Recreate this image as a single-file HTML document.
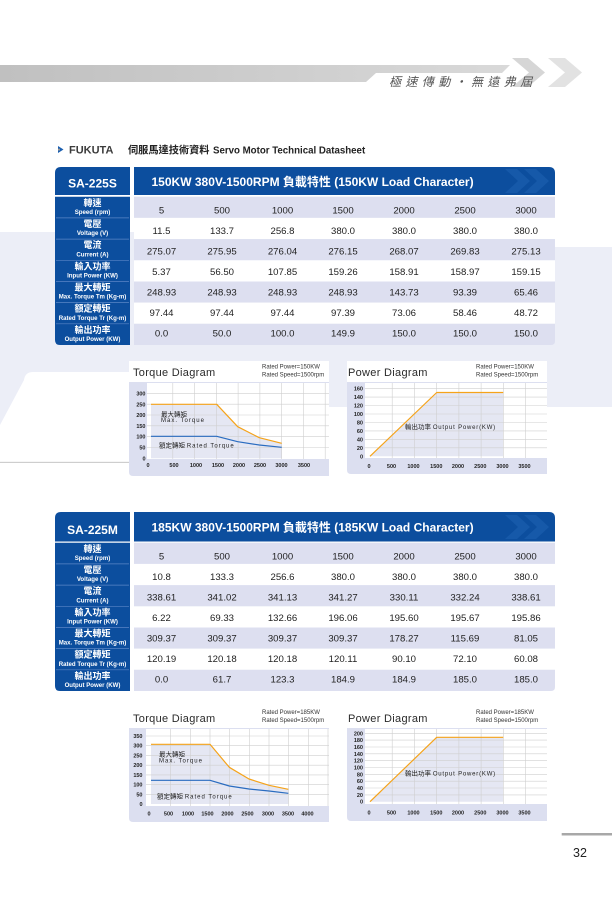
<!DOCTYPE html>
<html><head><meta charset="utf-8">
<style>
html,body{margin:0;padding:0;background:#fff;}
svg{display:block;}
text{font-family:"Liberation Sans","Noto Sans CJK TC",sans-serif;}
.lc{font-size:9px;font-weight:bold;fill:#fff;text-anchor:middle;}
.le{font-size:6.1px;font-weight:bold;fill:#fff;text-anchor:middle;}
.d{font-size:9.6px;fill:#222;text-anchor:middle;}
.ax{font-size:5.5px;font-weight:bold;fill:#222;}
.ya{text-anchor:end;}
.xa{text-anchor:middle;}
.rt{font-size:6px;fill:#333;}
.ct{font-size:11px;fill:#2a2a2a;letter-spacing:0.3px;}
.an{font-size:6px;fill:#222;letter-spacing:1px;}
.anc{font-size:6.5px;fill:#222;}
.g line{stroke:#cfcfcf;stroke-width:0.6;}
</style></head>
<body>
<svg width="612" height="900" viewBox="0 0 612 900" xmlns="http://www.w3.org/2000/svg">
<defs>
<linearGradient id="hb" x1="0" x2="1" y1="0" y2="0"><stop offset="0" stop-color="#c0c0c0"/><stop offset="1" stop-color="#d9d9d9"/></linearGradient>
</defs>
<rect width="612" height="900" fill="#fff"/>

<!-- header band -->
<path d="M0,65 H510 L502,73 H376 L366,82 H0 Z" fill="url(#hb)"/>
<path d="M512,58 H528 L545,72.5 L528,87 H512 L529,72.5 Z" fill="#d6d6d6"/>
<path d="M548,58 H565 L582,72.5 L565,87 H548 L565,72.5 Z" fill="#e2e2e2"/>
<text x="389" y="86" font-size="12" font-style="italic" letter-spacing="4.4" fill="#555">極速傳動・無遠弗屆</text>

<!-- logo line -->
<path d="M58,146 L63.5,149.5 L58,153 Z" fill="#1b5fb0"/>
<rect x="58" y="148.7" width="2" height="1.8" fill="#999"/>
<text x="69" y="153.5" font-size="11" font-weight="bold" fill="#3c3c3c">FUKUTA</text>
<text x="128" y="153.5" font-size="10.2" font-weight="bold" fill="#222">伺服馬達技術資料</text>
<text x="213" y="153.5" font-size="9.7" font-weight="bold" fill="#222">Servo Motor Technical Datasheet</text>

<!-- watermark section 1 -->
<path d="M0,232 H555 V247 H612 V407 H329 V372 H33 Q25,372 24,380 L0,425 Z" fill="#eceef7"/>
<line x1="0" y1="462.3" x2="129" y2="462.3" stroke="#bdbdbd" stroke-width="0.8"/>

<!-- ===== TABLE 1 ===== -->
<path d="M55,173 Q55,167 61,167 H130 V195 H55 Z" fill="#0c4e9e"/>
<path d="M134,167 H549 Q555,167 555,173 V195 H134 Z" fill="#0c4e9e"/>
<path d="M505,169 H517 L530,181 L517,193 H505 L518,181 Z" fill="#1659a9"/>
<path d="M524,169 H536 L549,181 L536,193 H524 L537,181 Z" fill="#1659a9"/>
<text x="92.5" y="187.5" font-size="12" font-weight="bold" fill="#fff" text-anchor="middle">SA-225S</text>
<text x="151.5" y="185.8" font-size="12" font-weight="bold" fill="#fff">150KW 380V-1500RPM 負載特性 (150KW Load Character)</text>

<path d="M55,196.7 H130 V345 H60 Q55,345 55,340 Z" fill="#0c4e9e"/>
<g stroke="#5a85c6" stroke-width="0.7">
<line x1="56" y1="217.9" x2="129" y2="217.9"/><line x1="56" y1="239.1" x2="129" y2="239.1"/>
<line x1="56" y1="260.3" x2="129" y2="260.3"/><line x1="56" y1="281.5" x2="129" y2="281.5"/>
<line x1="56" y1="302.6" x2="129" y2="302.6"/><line x1="56" y1="323.8" x2="129" y2="323.8"/>
</g>
<rect x="134" y="196.7" width="421" height="21.2" fill="#dddff0"/>
<rect x="134" y="217.9" width="421" height="21.2" fill="#fff"/>
<rect x="134" y="239.1" width="421" height="21.2" fill="#dddff0"/>
<rect x="134" y="260.3" width="421" height="21.2" fill="#fff"/>
<rect x="134" y="281.5" width="421" height="21.1" fill="#dddff0"/>
<rect x="134" y="302.6" width="421" height="21.2" fill="#fff"/>
<path d="M134,323.8 H555 V341 Q555,345 551,345 H134 Z" fill="#dddff0"/>

<text class="lc" x="92.5" y="205.8">轉速</text><text class="le" x="92.5" y="214">Speed (rpm)</text>
<text class="lc" x="92.5" y="227">電壓</text><text class="le" x="92.5" y="235.2">Voltage (V)</text>
<text class="lc" x="92.5" y="248.2">電流</text><text class="le" x="92.5" y="256.4">Current (A)</text>
<text class="lc" x="92.5" y="269.4">輸入功率</text><text class="le" x="92.5" y="277.6">Input Power (KW)</text>
<text class="lc" x="92.5" y="290.5">最大轉矩</text><text class="le" x="92.5" y="298.7">Max. Torque Tm (Kg-m)</text>
<text class="lc" x="92.5" y="311.7">額定轉矩</text><text class="le" x="92.5" y="319.9">Rated Torque Tr (Kg-m)</text>
<text class="lc" x="92.5" y="332.9">輸出功率</text><text class="le" x="92.5" y="341.1">Output Power (KW)</text>

<g class="d">
<text class="d" x="161.5" y="213.3">5</text><text class="d" x="222" y="213.3">500</text><text class="d" x="282.5" y="213.3">1000</text><text class="d" x="343" y="213.3">1500</text><text class="d" x="404" y="213.3">2000</text><text class="d" x="465" y="213.3">2500</text><text class="d" x="526" y="213.3">3000</text>
<text class="d" x="161.5" y="233.9">11.5</text><text class="d" x="222" y="233.9">133.7</text><text class="d" x="282.5" y="233.9">256.8</text><text class="d" x="343" y="233.9">380.0</text><text class="d" x="404" y="233.9">380.0</text><text class="d" x="465" y="233.9">380.0</text><text class="d" x="526" y="233.9">380.0</text>
<text class="d" x="161.5" y="254.4">275.07</text><text class="d" x="222" y="254.4">275.95</text><text class="d" x="282.5" y="254.4">276.04</text><text class="d" x="343" y="254.4">276.15</text><text class="d" x="404" y="254.4">268.07</text><text class="d" x="465" y="254.4">269.83</text><text class="d" x="526" y="254.4">275.13</text>
<text class="d" x="161.5" y="275">5.37</text><text class="d" x="222" y="275">56.50</text><text class="d" x="282.5" y="275">107.85</text><text class="d" x="343" y="275">159.26</text><text class="d" x="404" y="275">158.91</text><text class="d" x="465" y="275">158.97</text><text class="d" x="526" y="275">159.15</text>
<text class="d" x="161.5" y="295.6">248.93</text><text class="d" x="222" y="295.6">248.93</text><text class="d" x="282.5" y="295.6">248.93</text><text class="d" x="343" y="295.6">248.93</text><text class="d" x="404" y="295.6">143.73</text><text class="d" x="465" y="295.6">93.39</text><text class="d" x="526" y="295.6">65.46</text>
<text class="d" x="161.5" y="316.2">97.44</text><text class="d" x="222" y="316.2">97.44</text><text class="d" x="282.5" y="316.2">97.44</text><text class="d" x="343" y="316.2">97.39</text><text class="d" x="404" y="316.2">73.06</text><text class="d" x="465" y="316.2">58.46</text><text class="d" x="526" y="316.2">48.72</text>
<text class="d" x="161.5" y="336.7">0.0</text><text class="d" x="222" y="336.7">50.0</text><text class="d" x="282.5" y="336.7">100.0</text><text class="d" x="343" y="336.7">149.9</text><text class="d" x="404" y="336.7">150.0</text><text class="d" x="465" y="336.7">150.0</text><text class="d" x="526" y="336.7">150.0</text>
</g>

<!-- ===== TORQUE CHART 1 ===== -->
<rect x="129" y="361" width="200" height="22" fill="#fff"/>
<path d="M129,382 H329 V476 H133 Q129,476 129,472 Z" fill="#dcdff0"/>
<rect x="147" y="383" width="182" height="76" fill="#fff"/>
<polygon points="151,404.3 216.7,404.3 237.7,426.7 259.3,437.7 281.7,443.3 281.7,458.3 151,458.3" fill="#e5e7f3"/>
<g class="g">
<line x1="147" y1="393.3" x2="329" y2="393.3"/><line x1="147" y1="404.2" x2="329" y2="404.2"/><line x1="147" y1="415" x2="329" y2="415"/><line x1="147" y1="425.8" x2="329" y2="425.8"/><line x1="147" y1="436.7" x2="329" y2="436.7"/><line x1="147" y1="447.5" x2="329" y2="447.5"/>
<line x1="172.8" y1="383" x2="172.8" y2="459"/><line x1="194.6" y1="383" x2="194.6" y2="459"/><line x1="216.3" y1="383" x2="216.3" y2="459"/><line x1="238.1" y1="383" x2="238.1" y2="459"/><line x1="259.9" y1="383" x2="259.9" y2="459"/><line x1="281.7" y1="383" x2="281.7" y2="459"/><line x1="303.5" y1="383" x2="303.5" y2="459"/><line x1="325.2" y1="383" x2="325.2" y2="459"/>
</g>
<polyline points="151,404.3 216.7,404.3 237.7,426.7 259.3,437.7 281.7,443.3" fill="none" stroke="#f5a31a" stroke-width="1.2" stroke-linejoin="round"/>
<polyline points="151,436.3 216.7,436.3 237.7,441.7 259.3,445 281.7,447.3" fill="none" stroke="#2a6cc0" stroke-width="1.2" stroke-linejoin="round"/>
<text class="ax ya" x="145.5" y="395.3">300</text><text class="ax ya" x="145.5" y="406.3">250</text><text class="ax ya" x="145.5" y="417">200</text><text class="ax ya" x="145.5" y="427.8">150</text><text class="ax ya" x="145.5" y="438.7">100</text><text class="ax ya" x="145.5" y="449.5">50</text><text class="ax ya" x="145.5" y="460.3">0</text>
<text class="ax xa" x="148" y="467">0</text><text class="ax xa" x="174" y="467">500</text><text class="ax xa" x="196" y="467">1000</text><text class="ax xa" x="218" y="467">1500</text><text class="ax xa" x="239" y="467">2000</text><text class="ax xa" x="260" y="467">2500</text><text class="ax xa" x="281.5" y="467">3000</text><text class="ax xa" x="304" y="467">3500</text>
<text class="ct" x="133" y="376">Torque Diagram</text>
<text class="rt" x="262" y="368.5">Rated Power=150KW</text>
<text class="rt" x="262" y="376.5">Rated Speed=1500rpm</text>
<text class="anc" x="161" y="416.5">最大轉矩</text>
<text class="an" x="161" y="422.2">Max. Torque</text>
<text class="anc" x="159" y="447.7">額定轉矩 <tspan class="an">Rated Torque</tspan></text>

<!-- ===== POWER CHART 1 ===== -->
<rect x="347" y="361" width="200" height="22" fill="#fff"/>
<path d="M347,382 H547 V474 H351 Q347,474 347,470 Z" fill="#dcdff0"/>
<rect x="365" y="383" width="182" height="75" fill="#fff"/>
<polygon points="370,456.3 436.7,392.5 503.3,392.5 503.3,456.3" fill="#e5e7f3"/>
<g class="g">
<line x1="365" y1="447.8" x2="547" y2="447.8"/><line x1="365" y1="439.4" x2="547" y2="439.4"/><line x1="365" y1="430.9" x2="547" y2="430.9"/><line x1="365" y1="422.5" x2="547" y2="422.5"/><line x1="365" y1="414" x2="547" y2="414"/><line x1="365" y1="405.5" x2="547" y2="405.5"/><line x1="365" y1="397.1" x2="547" y2="397.1"/><line x1="365" y1="388.6" x2="547" y2="388.6"/>
<line x1="392.2" y1="383" x2="392.2" y2="458"/><line x1="414.4" y1="383" x2="414.4" y2="458"/><line x1="436.7" y1="383" x2="436.7" y2="458"/><line x1="458.9" y1="383" x2="458.9" y2="458"/><line x1="481.1" y1="383" x2="481.1" y2="458"/><line x1="503.3" y1="383" x2="503.3" y2="458"/><line x1="525.6" y1="383" x2="525.6" y2="458"/>
</g>
<polyline points="370,456.3 436.7,392.5 503.3,392.5" fill="none" stroke="#f5a31a" stroke-width="1.2" stroke-linejoin="round"/>
<text class="ax ya" x="363" y="458.3">0</text><text class="ax ya" x="363" y="449.8">20</text><text class="ax ya" x="363" y="441.4">40</text><text class="ax ya" x="363" y="432.9">60</text><text class="ax ya" x="363" y="424.5">80</text><text class="ax ya" x="363" y="416">100</text><text class="ax ya" x="363" y="407.5">120</text><text class="ax ya" x="363" y="399.1">140</text><text class="ax ya" x="363" y="390.6">160</text>
<text class="ax xa" x="369" y="468">0</text><text class="ax xa" x="391.5" y="468">500</text><text class="ax xa" x="413.5" y="468">1000</text><text class="ax xa" x="436.3" y="468">1500</text><text class="ax xa" x="458" y="468">2000</text><text class="ax xa" x="480.3" y="468">2500</text><text class="ax xa" x="502.5" y="468">3000</text><text class="ax xa" x="524.5" y="468">3500</text>
<text class="ct" x="348" y="376">Power Diagram</text>
<text class="rt" x="476" y="368.5">Rated Power=150KW</text>
<text class="rt" x="476" y="376.5">Rated Speed=1500rpm</text>
<text class="anc" x="405" y="429">輸出功率 <tspan class="an" style="letter-spacing:0.8px">Output Power(KW)</tspan></text>

<!-- ===== TABLE 2 ===== -->
<path d="M55,518 Q55,512 61,512 H130 V541.5 H55 Z" fill="#0c4e9e"/>
<path d="M134,512 H549 Q555,512 555,518 V541.5 H134 Z" fill="#0c4e9e"/>
<path d="M505,515 H517 L530,527 L517,539 H505 L518,527 Z" fill="#1659a9"/>
<path d="M524,515 H536 L549,527 L536,539 H524 L537,527 Z" fill="#1659a9"/>
<text x="92.5" y="534" font-size="12" font-weight="bold" fill="#fff" text-anchor="middle">SA-225M</text>
<text x="151.5" y="531.6" font-size="12" font-weight="bold" fill="#fff">185KW 380V-1500RPM 負載特性 (185KW Load Character)</text>

<path d="M55,542.7 H130 V691 H60 Q55,691 55,686 Z" fill="#0c4e9e"/>
<g stroke="#5a85c6" stroke-width="0.7">
<line x1="56" y1="563.9" x2="129" y2="563.9"/><line x1="56" y1="585.1" x2="129" y2="585.1"/>
<line x1="56" y1="606.3" x2="129" y2="606.3"/><line x1="56" y1="627.5" x2="129" y2="627.5"/>
<line x1="56" y1="648.6" x2="129" y2="648.6"/><line x1="56" y1="669.8" x2="129" y2="669.8"/>
</g>
<rect x="134" y="542.7" width="421" height="21.2" fill="#dddff0"/>
<rect x="134" y="585.1" width="421" height="21.2" fill="#dddff0"/>
<rect x="134" y="627.5" width="421" height="21.1" fill="#dddff0"/>
<path d="M134,669.8 H555 V687 Q555,691 551,691 H134 Z" fill="#dddff0"/>

<text class="lc" x="92.5" y="551.8">轉速</text><text class="le" x="92.5" y="560">Speed (rpm)</text>
<text class="lc" x="92.5" y="573">電壓</text><text class="le" x="92.5" y="581.2">Voltage (V)</text>
<text class="lc" x="92.5" y="594.2">電流</text><text class="le" x="92.5" y="602.4">Current (A)</text>
<text class="lc" x="92.5" y="615.4">輸入功率</text><text class="le" x="92.5" y="623.6">Input Power (KW)</text>
<text class="lc" x="92.5" y="636.5">最大轉矩</text><text class="le" x="92.5" y="644.7">Max. Torque Tm (Kg-m)</text>
<text class="lc" x="92.5" y="657.7">額定轉矩</text><text class="le" x="92.5" y="665.9">Rated Torque Tr (Kg-m)</text>
<text class="lc" x="92.5" y="678.9">輸出功率</text><text class="le" x="92.5" y="687.1">Output Power (KW)</text>

<g>
<text class="d" x="161.5" y="559.3">5</text><text class="d" x="222" y="559.3">500</text><text class="d" x="282.5" y="559.3">1000</text><text class="d" x="343" y="559.3">1500</text><text class="d" x="404" y="559.3">2000</text><text class="d" x="465" y="559.3">2500</text><text class="d" x="526" y="559.3">3000</text>
<text class="d" x="161.5" y="579.9">10.8</text><text class="d" x="222" y="579.9">133.3</text><text class="d" x="282.5" y="579.9">256.6</text><text class="d" x="343" y="579.9">380.0</text><text class="d" x="404" y="579.9">380.0</text><text class="d" x="465" y="579.9">380.0</text><text class="d" x="526" y="579.9">380.0</text>
<text class="d" x="161.5" y="600.4">338.61</text><text class="d" x="222" y="600.4">341.02</text><text class="d" x="282.5" y="600.4">341.13</text><text class="d" x="343" y="600.4">341.27</text><text class="d" x="404" y="600.4">330.11</text><text class="d" x="465" y="600.4">332.24</text><text class="d" x="526" y="600.4">338.61</text>
<text class="d" x="161.5" y="621">6.22</text><text class="d" x="222" y="621">69.33</text><text class="d" x="282.5" y="621">132.66</text><text class="d" x="343" y="621">196.06</text><text class="d" x="404" y="621">195.60</text><text class="d" x="465" y="621">195.67</text><text class="d" x="526" y="621">195.86</text>
<text class="d" x="161.5" y="641.6">309.37</text><text class="d" x="222" y="641.6">309.37</text><text class="d" x="282.5" y="641.6">309.37</text><text class="d" x="343" y="641.6">309.37</text><text class="d" x="404" y="641.6">178.27</text><text class="d" x="465" y="641.6">115.69</text><text class="d" x="526" y="641.6">81.05</text>
<text class="d" x="161.5" y="662.2">120.19</text><text class="d" x="222" y="662.2">120.18</text><text class="d" x="282.5" y="662.2">120.18</text><text class="d" x="343" y="662.2">120.11</text><text class="d" x="404" y="662.2">90.10</text><text class="d" x="465" y="662.2">72.10</text><text class="d" x="526" y="662.2">60.08</text>
<text class="d" x="161.5" y="682.7">0.0</text><text class="d" x="222" y="682.7">61.7</text><text class="d" x="282.5" y="682.7">123.3</text><text class="d" x="343" y="682.7">184.9</text><text class="d" x="404" y="682.7">184.9</text><text class="d" x="465" y="682.7">185.0</text><text class="d" x="526" y="682.7">185.0</text>
</g>

<!-- ===== TORQUE CHART 2 ===== -->
<path d="M129,728 H329 V822 H133 Q129,822 129,818 Z" fill="#dcdff0"/>
<rect x="146" y="729" width="183" height="77" fill="#fff"/>
<polygon points="151,744.3 210,744.3 229.3,767.3 249,779 269,785.3 288.3,789.3 288.3,804 151,804" fill="#e5e7f3"/>
<g class="g">
<line x1="146" y1="794.3" x2="329" y2="794.3"/><line x1="146" y1="784.6" x2="329" y2="784.6"/><line x1="146" y1="774.9" x2="329" y2="774.9"/><line x1="146" y1="765.2" x2="329" y2="765.2"/><line x1="146" y1="755.4" x2="329" y2="755.4"/><line x1="146" y1="745.7" x2="329" y2="745.7"/><line x1="146" y1="736" x2="329" y2="736"/>
<line x1="170.7" y1="729" x2="170.7" y2="806"/><line x1="190.3" y1="729" x2="190.3" y2="806"/><line x1="210" y1="729" x2="210" y2="806"/><line x1="229.7" y1="729" x2="229.7" y2="806"/><line x1="249.3" y1="729" x2="249.3" y2="806"/><line x1="269" y1="729" x2="269" y2="806"/><line x1="288.7" y1="729" x2="288.7" y2="806"/><line x1="308.3" y1="729" x2="308.3" y2="806"/><line x1="328" y1="729" x2="328" y2="806"/>
</g>
<polyline points="151,744.3 210,744.3 229.3,767.3 249,779 269,785.3 288.3,789.3" fill="none" stroke="#f5a31a" stroke-width="1.2" stroke-linejoin="round"/>
<polyline points="151,780.3 210,780.3 229.3,786 249,789 269,791 288.3,793.3" fill="none" stroke="#2a6cc0" stroke-width="1.2" stroke-linejoin="round"/>
<text class="ax ya" x="142.5" y="806">0</text><text class="ax ya" x="142.5" y="796.3">50</text><text class="ax ya" x="142.5" y="786.6">100</text><text class="ax ya" x="142.5" y="776.9">150</text><text class="ax ya" x="142.5" y="767.2">200</text><text class="ax ya" x="142.5" y="757.4">250</text><text class="ax ya" x="142.5" y="747.7">300</text><text class="ax ya" x="142.5" y="738">350</text>
<text class="ax xa" x="149" y="815.5">0</text><text class="ax xa" x="168.5" y="815.5">500</text><text class="ax xa" x="188" y="815.5">1000</text><text class="ax xa" x="207.5" y="815.5">1500</text><text class="ax xa" x="227.5" y="815.5">2000</text><text class="ax xa" x="247.5" y="815.5">2500</text><text class="ax xa" x="268" y="815.5">3000</text><text class="ax xa" x="288" y="815.5">3500</text><text class="ax xa" x="307.5" y="815.5">4000</text>
<text class="ct" x="133" y="722">Torque Diagram</text>
<text class="rt" x="262" y="714">Rated Power=185KW</text>
<text class="rt" x="262" y="722">Rated Speed=1500rpm</text>
<text class="anc" x="159" y="756.5">最大轉矩</text>
<text class="an" x="159" y="762.7">Max. Torque</text>
<text class="anc" x="157" y="798.7">額定轉矩 <tspan class="an">Rated Torque</tspan></text>

<!-- ===== POWER CHART 2 ===== -->
<path d="M347,728 H547 V821 H351 Q347,821 347,817 Z" fill="#dcdff0"/>
<rect x="365" y="729" width="182" height="75" fill="#fff"/>
<polygon points="370,801.7 436.7,737.3 503.3,737.3 503.3,801.7" fill="#e5e7f3"/>
<g class="g">
<line x1="365" y1="794.9" x2="547" y2="794.9"/><line x1="365" y1="788" x2="547" y2="788"/><line x1="365" y1="781.2" x2="547" y2="781.2"/><line x1="365" y1="774.3" x2="547" y2="774.3"/><line x1="365" y1="767.5" x2="547" y2="767.5"/><line x1="365" y1="760.7" x2="547" y2="760.7"/><line x1="365" y1="753.8" x2="547" y2="753.8"/><line x1="365" y1="747" x2="547" y2="747"/><line x1="365" y1="740.1" x2="547" y2="740.1"/><line x1="365" y1="733.3" x2="547" y2="733.3"/>
<line x1="392.2" y1="729" x2="392.2" y2="804"/><line x1="414.4" y1="729" x2="414.4" y2="804"/><line x1="436.7" y1="729" x2="436.7" y2="804"/><line x1="458.9" y1="729" x2="458.9" y2="804"/><line x1="481.1" y1="729" x2="481.1" y2="804"/><line x1="503.3" y1="729" x2="503.3" y2="804"/><line x1="525.6" y1="729" x2="525.6" y2="804"/>
</g>
<polyline points="370,801.7 436.7,737.3 503.3,737.3" fill="none" stroke="#f5a31a" stroke-width="1.2" stroke-linejoin="round"/>
<text class="ax ya" x="363" y="803.7">0</text><text class="ax ya" x="363" y="796.9">20</text><text class="ax ya" x="363" y="790">40</text><text class="ax ya" x="363" y="783.2">60</text><text class="ax ya" x="363" y="776.3">80</text><text class="ax ya" x="363" y="769.5">100</text><text class="ax ya" x="363" y="762.7">120</text><text class="ax ya" x="363" y="755.8">140</text><text class="ax ya" x="363" y="749">160</text><text class="ax ya" x="363" y="742.1">180</text><text class="ax ya" x="363" y="735.3">200</text>
<text class="ax xa" x="369" y="814.7">0</text><text class="ax xa" x="391.5" y="814.7">500</text><text class="ax xa" x="413.5" y="814.7">1000</text><text class="ax xa" x="436.3" y="814.7">1500</text><text class="ax xa" x="458" y="814.7">2000</text><text class="ax xa" x="480.3" y="814.7">2500</text><text class="ax xa" x="502.5" y="814.7">3000</text><text class="ax xa" x="524.5" y="814.7">3500</text>
<text class="ct" x="348" y="722">Power Diagram</text>
<text class="rt" x="476" y="714">Rated Power=185KW</text>
<text class="rt" x="476" y="722">Rated Speed=1500rpm</text>
<text class="anc" x="405" y="775.7">輸出功率 <tspan class="an" style="letter-spacing:0.8px">Output Power(KW)</tspan></text>

<!-- page number -->
<rect x="561.7" y="833" width="50.3" height="2.5" fill="#a8a8a8"/>
<text x="573" y="857" font-size="12.5" fill="#222">32</text>
</svg>
</body></html>
